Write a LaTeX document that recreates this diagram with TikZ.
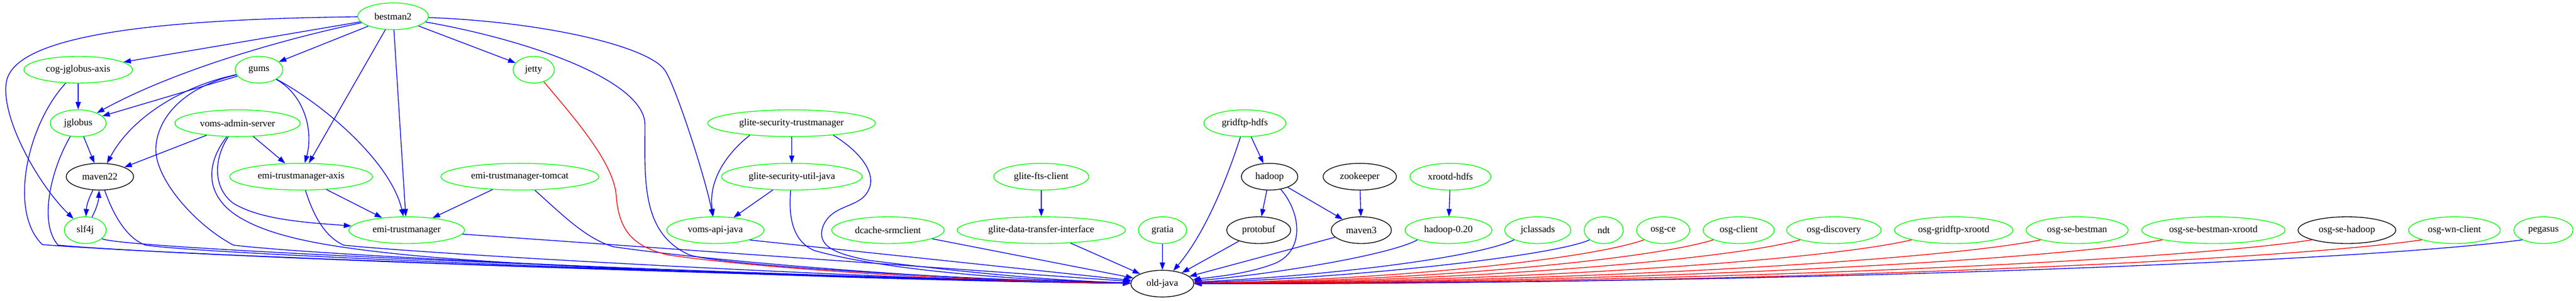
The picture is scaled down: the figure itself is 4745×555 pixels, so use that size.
\documentclass[tikz,border=0pt]{standalone}
\usepackage{fontspec}
\setmainfont{Liberation Serif}
\usetikzlibrary{arrows.meta,shapes.geometric}
\definecolor{vgreen}{RGB}{0,255,0}
\definecolor{vblue}{RGB}{0,0,255}
\definecolor{vred}{RGB}{255,0,0}
\newcommand\pxu{0.731pt}
\newcommand\nodefont{\fontsize{13pt}{15pt}\selectfont}
\tikzset{
  gnode/.style={ellipse, draw=vgreen, line width=1pt, inner sep=0pt, minimum height=36pt, font=\nodefont, text=black},
  knode/.style={gnode, draw=black},
  bedge/.style={color=vblue, line width=1pt, -{Triangle[length=10pt,width=7pt]}},
  redge/.style={bedge, color=vred},
}
\begin{document}
\begin{tikzpicture}[x=0.731pt, y=-0.731pt]
\useasboundingbox (0,0) rectangle (4745,555);
% rank 0
\node[gnode, minimum width=130*\pxu] (b2) at (724,30) {bestman2};
% rank 1
\node[gnode, minimum width=200*\pxu] (cog) at (144,128.6) {cog-jglobus-axis};
\node[gnode, minimum width=88*\pxu] (gums) at (477,128.6) {gums};
\node[gnode, minimum width=76*\pxu] (jetty) at (983,128.6) {jetty};
% rank 2
\node[gnode, minimum width=103*\pxu] (jgl) at (144,227.2) {jglobus};
\node[gnode, minimum width=231*\pxu] (vas) at (437.5,227.2) {voms-admin-server};
\node[gnode, minimum width=309*\pxu] (gstm) at (1458,227.2) {glite-security-trustmanager};
\node[gnode, minimum width=151*\pxu] (gfh) at (2293,227.2) {gridftp-hdfs};
% rank 3
\node[knode, minimum width=124*\pxu] (mv22) at (184,325.8) {maven22};
\node[gnode, minimum width=263*\pxu] (eta) at (554.6,325.8) {emi-trustmanager-axis};
\node[gnode, minimum width=291*\pxu] (ett) at (957.5,325.8) {emi-trustmanager-tomcat};
\node[gnode, minimum width=259*\pxu] (gsuj) at (1458.6,325.8) {glite-security-util-java};
\node[gnode, minimum width=175*\pxu] (gfts) at (1918,325.8) {glite-fts-client};
\node[knode, minimum width=104*\pxu] (had) at (2338.6,325.8) {hadoop};
\node[knode, minimum width=135*\pxu] (zk) at (2504.7,325.8) {zookeeper};
\node[gnode, minimum width=149*\pxu] (xh) at (2671.6,325.8) {xrootd-hdfs};
% rank 4
\node[gnode, minimum width=77*\pxu] (slf) at (157,424.4) {slf4j};
\node[gnode, minimum width=213*\pxu] (etm) at (749,424.4) {emi-trustmanager};
\node[gnode, minimum width=179*\pxu] (vaj) at (1317.6,424.4) {voms-api-java};
\node[gnode, minimum width=207*\pxu] (dsc) at (1635.6,424.4) {dcache-srmclient};
\node[gnode, minimum width=310*\pxu] (gdti) at (1918,424.4) {glite-data-transfer-interface};
\node[gnode, minimum width=89*\pxu] (gra) at (2141.4,424.4) {gratia};
\node[knode, minimum width=118*\pxu] (pb) at (2318.5,424.4) {protobuf};
\node[knode, minimum width=111*\pxu] (mv3) at (2507.5,424.4) {maven3};
\node[gnode, minimum width=160*\pxu] (h020) at (2668,424.4) {hadoop-0.20};
\node[gnode, minimum width=122*\pxu] (jc) at (2832.6,424.4) {jclassads};
\node[gnode, minimum width=72*\pxu] (ndt) at (2954,424.4) {ndt};
\node[gnode, minimum width=98*\pxu] (oce) at (3063.5,424.4) {osg-ce};
\node[gnode, minimum width=131*\pxu] (ocl) at (3202.6,424.4) {osg-client};
\node[gnode, minimum width=174*\pxu] (odi) at (3378,424.4) {osg-discovery};
\node[gnode, minimum width=218*\pxu] (ogx) at (3598.7,424.4) {osg-gridftp-xrootd};
\node[gnode, minimum width=188*\pxu] (osb) at (3826,424.4) {osg-se-bestman};
\node[gnode, minimum width=264*\pxu] (osbx) at (4077,424.4) {osg-se-bestman-xrootd};
\node[knode, minimum width=180*\pxu] (osh) at (4323,424.4) {osg-se-hadoop};
\node[gnode, minimum width=169*\pxu] (owc) at (4521,424.4) {osg-wn-client};
\node[gnode, minimum width=109*\pxu] (peg) at (4685,424.4) {pegasus};
% rank 5
\node[knode, minimum width=116*\pxu] (oj) at (2141,523) {old-java};

% bestman2
\draw[bedge] (b2) -- (cog);
\draw[bedge] (b2) .. controls (540,68) and (330,125) .. (jgl);
\draw[bedge] (b2) -- (gums);
\draw[bedge] (b2) -- (jetty);
\draw[bedge] (b2) -- (eta);
\draw[bedge] (b2) -- (etm);
\draw[bedge] (b2) .. controls (350,35) and (30,55) .. (12,150) .. controls (0,215) and (70,340) .. (slf);
\draw[bedge] (b2) .. controls (1000,40) and (1195,85) .. (1225,130) .. controls (1245,160) and (1300,330) .. (vaj);
\draw[bedge] (b2) .. controls (980,75) and (1188,150) .. (1188,230) .. controls (1188,330) and (1180,430) .. (1270,470) .. controls (1330,490) and (1800,517) .. (oj);
% cog-jglobus-axis
\draw[bedge] (cog) -- (jgl);
\draw[bedge] (cog) .. controls (50,230) and (15,390) .. (78,451) .. controls (380,476) and (1700,516) .. (oj);
% jglobus
\draw[bedge] (jgl) -- (mv22);
\draw[bedge] (jgl) .. controls (95,310) and (70,410) .. (107,452) .. controls (400,478) and (1700,517) .. (oj);
% gums
\draw[bedge] (gums) -- (jgl);
\draw[bedge] (gums) .. controls (330,160) and (240,220) .. (mv22);
\draw[bedge] (gums) .. controls (560,175) and (578,240) .. (eta);
\draw[bedge] (gums) .. controls (600,195) and (720,300) .. (etm);
\draw[bedge] (gums) .. controls (340,160) and (290,215) .. (287,273) .. controls (285,330) and (360,415) .. (430,452) .. controls (650,478) and (1700,519) .. (oj);
% voms-admin-server
\draw[bedge] (vas) -- (mv22);
\draw[bedge] (vas) -- (eta);
\draw[bedge] (vas) .. controls (395,290) and (390,345) .. (430,375) .. controls (480,405) and (560,410) .. (etm);
\draw[bedge] (vas) .. controls (380,300) and (375,360) .. (440,400) .. controls (500,437) and (600,455) .. (750,470) .. controls (1000,495) and (1700,519) .. (oj);
% maven22 / slf4j
\draw[bedge] (mv22) to[bend right=12] (slf);
\draw[bedge] (slf) to[bend right=12] (mv22);
\draw[bedge] (mv22) .. controls (210,400) and (235,440) .. (268,452) .. controls (420,474) and (1700,518) .. (oj);
\draw[bedge] (slf) .. controls (230,462) and (1600,515) .. (oj);
% emi
\draw[bedge] (eta) -- (etm);
\draw[bedge] (eta) .. controls (575,390) and (595,435) .. (633,452) .. controls (800,470) and (1700,519) .. (oj);
\draw[bedge] (ett) -- (etm);
\draw[bedge] (ett) .. controls (1040,400) and (1080,440) .. (1130,455) .. controls (1300,480) and (1750,519) .. (oj);
\draw[bedge] (etm) -- (oj);
% jetty
\draw[redge] (jetty) .. controls (1060,220) and (1130,300) .. (1135,360) .. controls (1140,430) and (1170,455) .. (1230,470) .. controls (1400,495) and (1750,518) .. (oj);
% glite security
\draw[bedge] (gstm.196) .. controls (1330,290) and (1305,340) .. (vaj);
\draw[bedge] (gstm) -- (gsuj);
\draw[bedge] (gstm.344) .. controls (1585,280) and (1615,320) .. (1600,350) .. controls (1585,385) and (1530,375) .. (1515,420) .. controls (1505,455) and (1540,468) .. (1600,480) .. controls (1800,505) and (1950,518) .. (oj);
\draw[bedge] (gsuj) -- (vaj);
\draw[bedge] (gsuj) .. controls (1452,400) and (1460,445) .. (1500,462) .. controls (1600,490) and (1800,515) .. (oj);
\draw[bedge] (vaj.344) -- (oj);
\draw[bedge] (dsc) -- (oj);
\draw[bedge] (gfts) -- (gdti);
\draw[bedge] (gdti) -- (oj);
\draw[bedge] (gra) -- (oj);
% hadoop family
\draw[bedge] (gfh) -- (had);
\draw[bedge] (gfh) .. controls (2260,330) and (2220,430) .. (oj);
\draw[bedge] (had) -- (pb);
\draw[bedge] (had) -- (mv3);
\draw[bedge] (had) .. controls (2395,390) and (2405,460) .. (2350,485) .. controls (2300,505) and (2240,510) .. (oj);
\draw[bedge] (zk) -- (mv3);
\draw[bedge] (xh) -- (h020);
\draw[bedge] (pb) -- (oj);
\draw[bedge] (mv3) -- (oj);
\draw[bedge] (h020.south west) .. controls (2560,470) and (2350,505) .. (oj);
\draw[bedge] (jc.south west) .. controls (2720,475) and (2450,508) .. (oj);
\draw[bedge] (ndt.south west) .. controls (2860,472) and (2500,512) .. (oj);
% osg family
\draw[redge] (oce.south west) .. controls (2926,478) and (2570,516) .. (oj);
\draw[redge] (ocl.south west) .. controls (3041,478) and (2629,518) .. (oj);
\draw[redge] (odi.south west) .. controls (3183,479) and (2702,519) .. (oj);
\draw[redge] (ogx.south west) .. controls (3362,480) and (2793,520) .. (oj);
\draw[redge] (osb.south west) .. controls (3572,480) and (2900,521) .. (oj);
\draw[redge] (osbx.south west) .. controls (3770,481) and (3002,522) .. (oj);
\draw[redge] (osh.south west) .. controls (4012,481) and (3125,523) .. (oj);
\draw[redge] (owc.south west) .. controls (4190,482) and (3216,525) .. (oj);
\draw[bedge] (peg.south west) .. controls (4352,482) and (3300,524) .. (oj);
\end{tikzpicture}
\end{document}
